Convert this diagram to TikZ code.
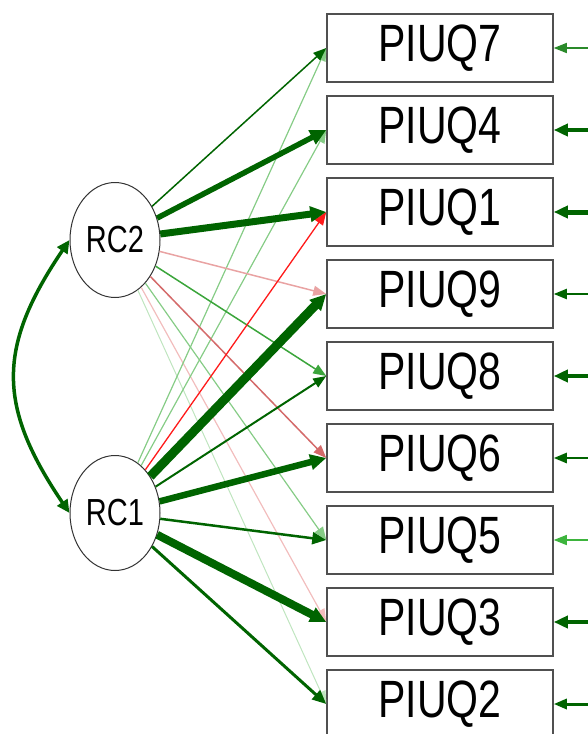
\documentclass[tikz,border=0pt]{standalone}
\usepackage{fontspec}
\setmainfont{Liberation Sans}
\usepackage{graphicx}
\usetikzlibrary{arrows.meta,shapes.geometric}
\definecolor{dg}{HTML}{006400}
\definecolor{redA}{HTML}{FF1A1A}
\definecolor{pinkL}{HTML}{E9A3A3}
\definecolor{redM}{HTML}{D46A6A}
\definecolor{pinkVL}{HTML}{F2BDBD}
\definecolor{gM}{HTML}{3BA53B}
\definecolor{gL}{HTML}{86CC86}
\definecolor{gVL}{HTML}{BFE5BF}
\definecolor{gR}{HTML}{3DB43D}
\definecolor{gT}{HTML}{2A8A2A}
\definecolor{boxgray}{HTML}{505050}
\newcommand\btxt[1]{\scalebox{1}[1.28]{\fontsize{41}{41}\selectfont #1}}
\newcommand\ltxt[1]{\scalebox{1}[1.3]{\fontsize{29}{29}\selectfont #1}}
\begin{document}
\begin{tikzpicture}[x=1pt,y=-1pt,
  box/.style={draw=boxgray, line width=1.5pt, minimum width=226pt, minimum height=68pt, inner sep=0pt, fill=white},
  lat/.style={ellipse, draw=black!80, line width=1pt, minimum width=90pt, minimum height=115pt, inner sep=0pt, fill=white},
  hs/.style={-{Triangle[length=13pt,width=10pt]}},
  hm/.style={-{Triangle[length=14pt,width=12pt]}},
  hl/.style={-{Triangle[length=16pt,width=15pt]}},
  cov/.style={draw=dg, line width=3.5pt, {Triangle[length=13pt,width=12pt]}-{Triangle[length=13pt,width=12pt]}}
]
\useasboundingbox (0,0) rectangle (588,734);
\node[box] (p7) at (440,48) {\btxt{PIUQ7}};
\node[box] (p4) at (440,130) {\btxt{PIUQ4}};
\node[box] (p1) at (440,212) {\btxt{PIUQ1}};
\node[box] (p9) at (440,294) {\btxt{PIUQ9}};
\node[box] (p8) at (440,376) {\btxt{PIUQ8}};
\node[box] (p6) at (440,458) {\btxt{PIUQ6}};
\node[box] (p5) at (440,540) {\btxt{PIUQ5}};
\node[box] (p3) at (440,622) {\btxt{PIUQ3}};
\node[box] (p2) at (440,704) {\btxt{PIUQ2}};
\node[lat] (rc2) at (115,240) {\ltxt{RC2}};
\node[lat] (rc1) at (115,513) {\ltxt{RC1}};
% right residual arrows
\coordinate (r7) at (588,48);
\coordinate (r4) at (588,130);
\coordinate (r1) at (588,212);
\coordinate (r9) at (588,294);
\coordinate (r8) at (588,376);
\coordinate (r6) at (588,458);
\coordinate (r5) at (588,540);
\coordinate (r3) at (588,622);
\coordinate (r2) at (588,704);
\draw[hs, draw=gT, line width=1.5pt] (r7) -- (p7.east);
\draw[hm, draw=dg, line width=4.5pt] (r4) -- (p4.east);
\draw[hm, draw=dg, line width=5pt] (r1) -- (p1.east);
\draw[hs, draw=dg, line width=2pt] (r9) -- (p9.east);
\draw[hm, draw=dg, line width=4pt] (r8) -- (p8.east);
\draw[hs, draw=dg, line width=2.5pt] (r6) -- (p6.east);
\draw[hs, draw=gR, line width=1.5pt] (r5) -- (p5.east);
\draw[hm, draw=dg, line width=4pt] (r3) -- (p3.east);
\draw[hs, draw=dg, line width=3pt] (r2) -- (p2.east);
% light loadings
\draw[hs, draw=gVL, line width=1pt] (rc2) -- (p2.west);
\draw[hs, draw=pinkVL, line width=1.2pt] (rc2) -- (p3.west);
\draw[hs, draw=gL, line width=1.2pt] (rc2) -- (p5.west);
\draw[hs, draw=gL, line width=1.2pt] (rc1) -- (p7.west);
\draw[hs, draw=gL, line width=1.2pt] (rc1) -- (p4.west);
\draw[hs, draw=pinkL, line width=1.5pt] (rc2) -- (p9.west);
\draw[hs, draw=redM, line width=1.5pt] (rc2) -- (p6.west);
\draw[hs, draw=gM, line width=1.5pt] (rc2) -- (p8.west);
\draw[hs, draw=redA, line width=1.3pt] (rc1) -- (p1.west);
% strong loadings
\draw[hs, draw=dg, line width=1.5pt] (rc2) -- (p7.west);
\draw[hl, draw=dg, line width=5.5pt] (rc2) -- (p4.west);
\draw[hl, draw=dg, line width=7pt] (rc2) -- (p1.west);
\draw[hs, draw=dg, line width=2pt] (rc1) -- (p8.west);
\draw[hm, draw=dg, line width=2.5pt] (rc1) -- (p5.west);
\draw[hm, draw=dg, line width=3pt] (rc1) -- (p2.west);
\draw[hl, draw=dg, line width=6.5pt] (rc1) -- (p6.west);
\draw[hl, draw=dg, line width=8pt] (rc1) -- (p3.west);
\draw[hl, draw=dg, line width=9pt] (rc1) -- (p9.west);
% covariance
\draw[cov] (rc2.west) .. controls (-3,347) and (-3,406) .. (rc1.west);
\end{tikzpicture}
\end{document}
